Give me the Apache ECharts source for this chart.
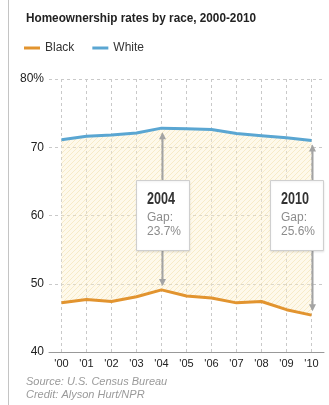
<!DOCTYPE html>
<html>
<head>
<meta charset="utf-8">
<script src="https://cdn.jsdelivr.net/npm/echarts@6/dist/echarts.min.js"></script>
<style>
  html, body { margin: 0; padding: 0; background: #fff; }
  #chart { width: 329px; height: 405px; }
</style>
</head>
<body>
<div id="chart"></div>
<script>
// Homeownership rates (%) by race, 2000-2010
const years = ["'00", "'01", "'02", "'03", "'04", "'05", "'06", "'07", "'08", "'09", "'10"];
const blackRates = [47.2, 47.7, 47.4, 48.1, 49.1, 48.2, 47.9, 47.2, 47.4, 46.2, 45.4];
const whiteRates = [71.1, 71.6, 71.8, 72.1, 72.8, 72.7, 72.6, 72.0, 71.7, 71.4, 71.0];
const yTicks = [40, 50, 60, 70, 80];
// Years called out with the gap between the two lines
const calloutIndex = [4, 10];
const calloutTitle = ['2004', '2010'];

const ORANGE = '#e2942f';
const BLUE = '#5aa6d2';
const SANS = '"Liberation Sans", Arial, Helvetica, sans-serif';

// Width of a string in a given canvas font, used to condense bold headings
const measureCtx = document.createElement('canvas').getContext('2d');
function textWidth(str, font) {
  measureCtx.font = font;
  return measureCtx.measureText(str).width;
}

// Diagonal hatch used for the gap area
function hatchPattern() {
  const c = document.createElement('canvas');
  c.width = 5; c.height = 5;
  const g = c.getContext('2d');
  g.fillStyle = 'rgba(252, 240, 205, 0.40)';
  g.fillRect(0, 0, 5, 5);
  g.strokeStyle = 'rgba(242, 222, 165, 0.50)';
  g.lineWidth = 1;
  g.beginPath();
  g.moveTo(-1, 6); g.lineTo(6, -1);
  g.moveTo(-1, 1); g.lineTo(1, -1);
  g.moveTo(4, 6); g.lineTo(6, 4);
  g.stroke();
  return c;
}

const gapValues = whiteRates.map((w, i) => +(w - blackRates[i]).toFixed(1));

const chart = echarts.init(document.getElementById('chart'), null, { renderer: 'canvas' });

chart.setOption({
  animation: false,
  backgroundColor: '#fff',
  legend: {
    left: 24, top: 42, padding: 0,
    data: ['Black', 'White'],
    icon: 'rect', itemWidth: 16, itemHeight: 3, itemGap: 18,
    textStyle: { fontFamily: SANS, fontSize: 12, color: '#333' }
  },
  grid: { left: 49, top: 79, width: 275, height: 273 },
  xAxis: {
    type: 'category',
    data: years,
    boundaryGap: true,
    axisLine: { lineStyle: { color: '#999', width: 1 } },
    axisTick: { show: false },
    axisLabel: { interval: 0, margin: 6, fontFamily: SANS, fontSize: 11, color: '#222' },
    splitLine: {
      show: true, interval: 0, alignWithLabel: true,
      lineStyle: { color: '#c9c9c9', type: [3, 3], width: 1 }
    }
  },
  yAxis: {
    type: 'value',
    min: yTicks[0], max: yTicks[yTicks.length - 1], interval: 10,
    axisLine: { show: false },
    axisTick: { show: false },
    axisLabel: {
      margin: 5, fontFamily: SANS, fontSize: 12, color: '#222',
      formatter: v => (v === yTicks[yTicks.length - 1] ? v + '%' : String(v))
    },
    splitLine: { lineStyle: { color: '#c9c9c9', type: [3, 3], width: 1 } }
  },
  series: [
    {
      name: 'gapBase', type: 'line', stack: 'gap', data: blackRates,
      symbol: 'none', lineStyle: { width: 0 }, silent: true, z: 1
    },
    {
      name: 'gapFill', type: 'line', stack: 'gap', data: gapValues,
      symbol: 'none', lineStyle: { width: 0 }, silent: true, z: 1,
      areaStyle: { color: { image: hatchPattern(), repeat: 'repeat' }, opacity: 1 }
    },
    {
      name: 'Black', type: 'line', data: blackRates, color: ORANGE,
      symbol: 'none', lineStyle: { width: 3, color: ORANGE }, z: 5
    },
    {
      name: 'White', type: 'line', data: whiteRates, color: BLUE,
      symbol: 'none', lineStyle: { width: 3, color: BLUE }, z: 5
    }
  ]
});

const graphics = [];

// Condensed bold heading
const TITLE = 'Homeownership rates by race, 2000-2010';
const titleFont = 'bold 13px "Liberation Sans"';
const titleScale = 230 / textWidth(TITLE, titleFont);
graphics.push({
  type: 'text', x: 26, y: 18, scaleX: titleScale, originX: 0,
  style: { text: TITLE, fill: '#222', fontFamily: SANS, fontWeight: 'bold',
           fontSize: 13, verticalAlign: 'middle' }
});

// Gap arrows and callout boxes, placed through the chart's own scales
const GRAY = '#a3a3a3';
calloutIndex.forEach((idx, k) => {
  const top = chart.convertToPixel({ gridIndex: 0 }, [idx, whiteRates[idx]]);
  const bot = chart.convertToPixel({ gridIndex: 0 }, [idx, blackRates[idx]]);
  const x = Math.round(top[0]) + 0.5;
  const y1 = top[1] + 4, y2 = bot[1] - 4;
  const ah = 7, aw = 3.5;
  graphics.push({
    type: 'line', z: 20,
    shape: { x1: x, y1: y1 + ah - 1, x2: x, y2: y2 - ah + 1 },
    style: { stroke: GRAY, lineWidth: 2 }
  });
  graphics.push({
    type: 'polygon', z: 20,
    shape: { points: [[x, y1], [x - aw, y1 + ah], [x + aw, y1 + ah]] },
    style: { fill: GRAY }
  });
  graphics.push({
    type: 'polygon', z: 20,
    shape: { points: [[x, y2], [x - aw, y2 - ah], [x + aw, y2 - ah]] },
    style: { fill: GRAY }
  });
  const bw = 53, bh = 70;
  const bx = Math.min(Math.round(x - bw / 2), 323 - bw) + 0.5;
  const by = 180.5;
  graphics.push({
    type: 'rect', z: 30,
    shape: { x: bx, y: by, width: bw, height: bh },
    style: { fill: '#fff', stroke: '#cfcfcf', lineWidth: 1,
             shadowColor: 'rgba(0,0,0,0.08)', shadowBlur: 2, shadowOffsetY: 1 }
  });
  const headFont = 'bold 16px "Liberation Sans"';
  graphics.push({
    type: 'text', z: 31, x: bx + 10.5, y: by + 19,
    scaleX: 28 / textWidth(calloutTitle[k], headFont),
    style: { text: calloutTitle[k], fill: '#333', fontFamily: SANS, fontWeight: 'bold',
             fontSize: 16, verticalAlign: 'middle' }
  });
  graphics.push({
    type: 'text', z: 31, x: bx + 10.5, y: by + 37,
    style: { text: 'Gap:', fill: '#8c8c8c', fontFamily: SANS, fontSize: 12, verticalAlign: 'middle' }
  });
  graphics.push({
    type: 'text', z: 31, x: bx + 10.5, y: by + 51,
    style: { text: gapValues[idx].toFixed(1) + '%', fill: '#8c8c8c', fontFamily: SANS,
             fontSize: 12, verticalAlign: 'middle' }
  });
});

// Page rule on the left and source lines
graphics.push({
  type: 'line', z: 1,
  shape: { x1: 8.5, y1: 0, x2: 8.5, y2: 405 },
  style: { stroke: '#c4c4c4', lineWidth: 1 }
});
graphics.push({
  type: 'text', x: 26, y: 382,
  style: { text: 'Source: U.S. Census Bureau', fill: '#9a9a9a', fontFamily: SANS,
           fontStyle: 'italic', fontSize: 11, verticalAlign: 'middle' }
});
graphics.push({
  type: 'text', x: 26, y: 395,
  style: { text: 'Credit: Alyson Hurt/NPR', fill: '#9a9a9a', fontFamily: SANS,
           fontStyle: 'italic', fontSize: 11, verticalAlign: 'middle' }
});

chart.setOption({ graphic: graphics });
</script>
</body>
</html>
